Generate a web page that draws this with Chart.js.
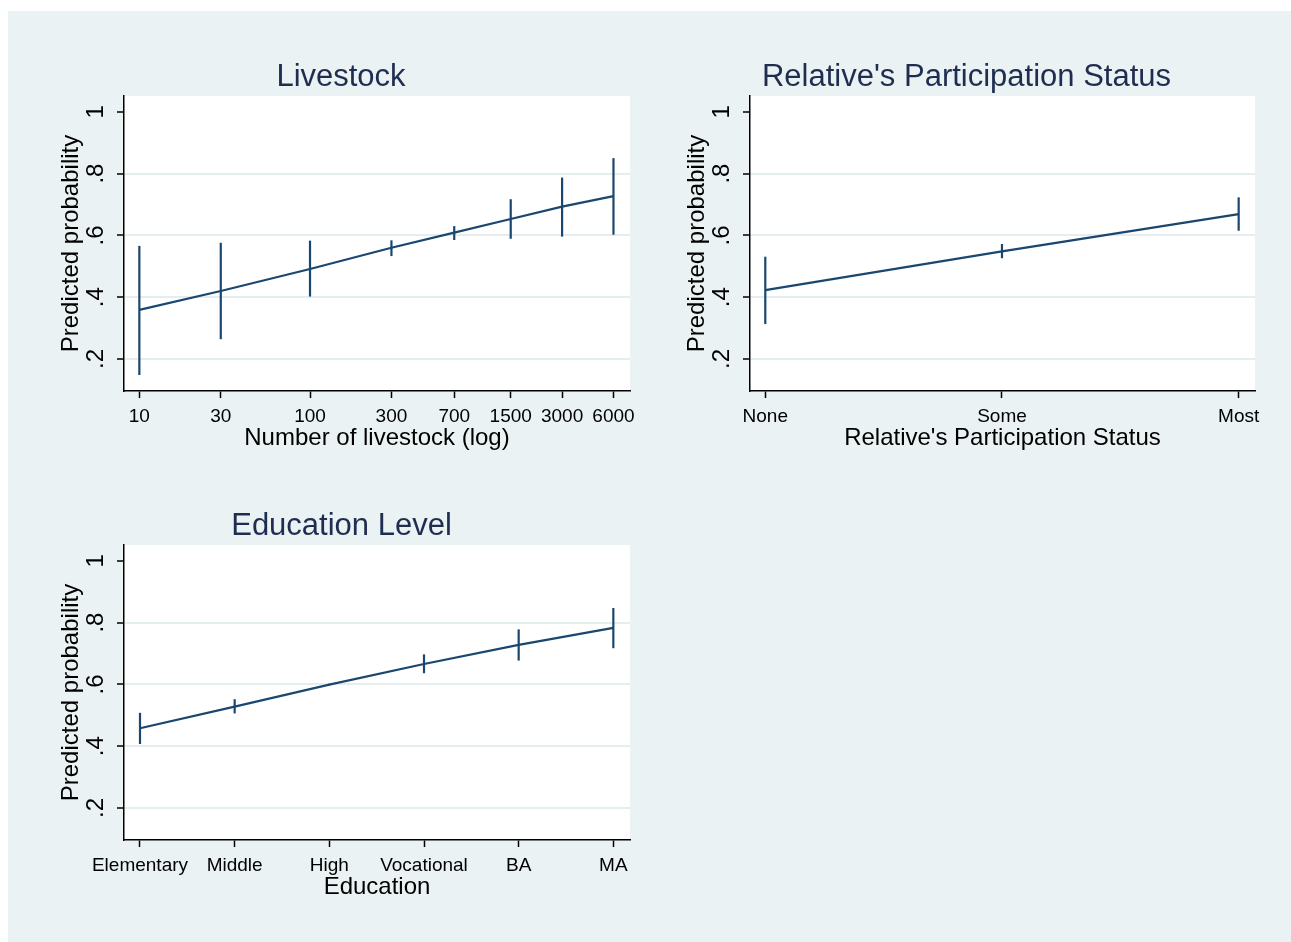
<!DOCTYPE html>
<html>
<head>
<meta charset="utf-8">
<script src="https://cdn.jsdelivr.net/npm/chart.js@4"></script>
<style>
  html, body { margin: 0; padding: 0; background: #fff; width: 1291px; height: 942px; overflow: hidden; }
  .bg { position: absolute; left: 8px; top: 11px; right: 0; bottom: 0; background: #eaf2f3; }
  canvas { position: absolute; }
</style>
</head>
<body>
<div class="bg"></div>
<canvas id="livestock"></canvas>
<canvas id="relative"></canvas>
<canvas id="education"></canvas>
<script>
// ── Data ──
const yTicks = [0.2, 0.4, 0.6, 0.8, 1];
const yTickLabels = ['.2', '.4', '.6', '.8', '1'];

const livestockX = [10, 30, 100, 300, 700, 1500, 3000, 6000];
const livestockP = [0.359, 0.420, 0.491, 0.560, 0.609, 0.653, 0.693, 0.727];
const livestockLo = [0.148, 0.264, 0.402, 0.533, 0.585, 0.589, 0.596, 0.602];
const livestockHi = [0.566, 0.576, 0.583, 0.584, 0.630, 0.717, 0.787, 0.850];

const relLabels = ['None', 'Some', 'Most'];
const relP = [0.423, 0.548, 0.669];
const relLo = [0.313, 0.526, 0.615];
const relHi = [0.531, 0.572, 0.723];

const eduLabels = ['Elementary', 'Middle', 'High', 'Vocational', 'BA', 'MA'];
const eduP = [0.458, 0.528, 0.599, 0.666, 0.728, 0.783];
const eduLo = [0.407, 0.506, 0.597, 0.636, 0.677, 0.717];
const eduHi = [0.508, 0.552, 0.602, 0.697, 0.778, 0.847];

// ── Style ──
const NAVY = '#1a476f';
const TITLE = '#1f2d50';
const GRID = '#e4eef0';
const FONT = "'Liberation Sans', Arial, Helvetica, sans-serif";
const TICK_SIZE = 19, AXIS_TITLE_SIZE = 24, YLABEL_SIZE = 24, TITLE_SIZE = 31;
const LINE_W = 2.2;
Chart.defaults.font.family = FONT;
Chart.defaults.color = '#000';

const plotBg = {
    id: 'plotBg',
    beforeDraw(chart) {
        const { ctx, chartArea: a } = chart;
        ctx.save();
        ctx.fillStyle = '#fff';
        ctx.fillRect(a.left, a.top, a.right - a.left, a.bottom - a.top);
        ctx.restore();
    }
};

// Stata-style vertical y tick labels
const rotatedYLabels = {
    id: 'rotatedYLabels',
    afterDraw(chart) {
        const { ctx, chartArea: a } = chart;
        const s = chart.scales.y;
        ctx.save();
        ctx.font = YLABEL_SIZE + 'px ' + FONT;
        ctx.fillStyle = '#000';
        ctx.textAlign = 'center';
        ctx.textBaseline = 'middle';
        yTicks.forEach((v, i) => {
            ctx.save();
            ctx.translate(a.left - 28, s.getPixelForValue(v));
            ctx.rotate(-Math.PI / 2);
            ctx.fillText(yTickLabels[i], 0, 0);
            ctx.restore();
        });
        ctx.restore();
    }
};

function ciSets(xs, lo, hi) {
    return xs.map((x, i) => ({
        data: [{ x: x, y: lo[i] }, { x: x, y: hi[i] }],
        showLine: true, borderColor: NAVY, borderWidth: LINE_W, pointRadius: 0
    }));
}

// box = canvas rect, area = wanted plot area (page px); title is centred on box.x..area.R
function makePanel(id, box, area, title, xTitle, xScale, xs, p, lo, hi) {
    const cv = document.getElementById(id);
    cv.width = box.w; cv.height = box.h;
    cv.style.left = box.x + 'px'; cv.style.top = box.y + 'px';
    const bottom = box.y + box.h;
    const titleH = TITLE_SIZE * 1.2;
    const halfAxisLine = AXIS_TITLE_SIZE * 0.6;

    return new Chart(cv, {
        type: 'scatter',
        data: {
            datasets: [
                { data: xs.map((x, i) => ({ x: x, y: p[i] })), showLine: true, borderColor: NAVY, borderWidth: LINE_W, pointRadius: 0 },
                ...ciSets(xs, lo, hi)
            ]
        },
        options: {
            responsive: false, animation: false,
            layout: { padding: { left: 0, right: box.x + box.w - area.R, top: area.T - box.y - titleH, bottom: 0 } },
            plugins: {
                legend: { display: false }, tooltip: { enabled: false },
                title: { display: true, text: title, color: TITLE, font: { size: TITLE_SIZE, weight: 'normal' }, padding: { top: 0, bottom: 0 } }
            },
            scales: {
                x: Object.assign({
                    border: { display: true, color: '#000', width: 1.5 },
                    grid: { drawOnChartArea: false, drawTicks: true, tickLength: 7, tickColor: '#000', tickWidth: 1.5 },
                    title: { display: true, text: xTitle, color: '#000', font: { size: AXIS_TITLE_SIZE }, padding: { top: 0, bottom: bottom - (area.B + 47) - halfAxisLine } },
                    afterFit: s => { s.height = bottom - area.B; }
                }, xScale),
                y: {
                    min: 0.0964, max: 1.051,
                    afterBuildTicks: s => { s.ticks = yTicks.map(v => ({ value: v })); },
                    border: { display: true, color: '#000', width: 1.5 },
                    grid: {
                        color: c => (c.tick && c.tick.value === 1) ? 'rgba(0,0,0,0)' : GRID,
                        lineWidth: 2, drawTicks: true, tickLength: 7, tickColor: '#000', tickWidth: 1.5
                    },
                    ticks: { display: false },
                    title: { display: true, text: 'Predicted probability', color: '#000', font: { size: AXIS_TITLE_SIZE }, padding: { top: area.L - 53 - box.x - halfAxisLine, bottom: 0 } },
                    afterFit: s => { s.width = area.L - box.x; }
                }
            }
        },
        plugins: [plotBg, rotatedYLabels]
    });
}

const tickOpts = cb => ({ font: { size: TICK_SIZE }, color: '#000', padding: 7, maxRotation: 0, autoSkip: false, callback: cb });

// ── Panels ──
makePanel('livestock', { x: 52, y: 11, w: 600, h: 460 }, { L: 124, T: 96, R: 630, B: 391 },
    'Livestock', 'Number of livestock (log)',
    {
        type: 'logarithmic', min: 8.13, max: 7499,
        afterBuildTicks: s => { s.ticks = livestockX.map(v => ({ value: v })); },
        ticks: tickOpts(v => String(v))
    },
    livestockX, livestockP, livestockLo, livestockHi);

makePanel('relative', { x: 678, y: 11, w: 605, h: 460 }, { L: 750, T: 96, R: 1255, B: 391 },
    "Relative's Participation Status", "Relative's Participation Status",
    {
        type: 'linear', min: -0.0646, max: 2.069,
        afterBuildTicks: s => { s.ticks = relLabels.map((_, i) => ({ value: i })); },
        ticks: tickOpts(v => relLabels[v])
    },
    relLabels.map((_, i) => i), relP, relLo, relHi);

makePanel('education', { x: 53, y: 460, w: 600, h: 460 }, { L: 124, T: 545, R: 630, B: 840 },
    'Education Level', 'Education',
    {
        type: 'linear', min: -0.169, max: 5.176,
        afterBuildTicks: s => { s.ticks = eduLabels.map((_, i) => ({ value: i })); },
        ticks: tickOpts(v => eduLabels[v])
    },
    eduLabels.map((_, i) => i), eduP, eduLo, eduHi);
</script>
</body>
</html>
